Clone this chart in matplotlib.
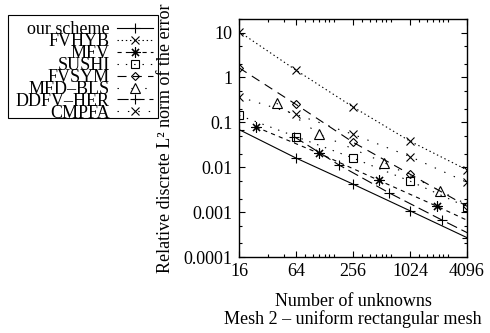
import matplotlib
matplotlib.use("Agg")
import matplotlib.pyplot as plt
from matplotlib.lines import Line2D
from matplotlib.patches import Rectangle
from matplotlib.ticker import FixedLocator, FixedFormatter, LogLocator, NullFormatter

plt.rcParams["font.family"] = ["Liberation Serif", "DejaVu Serif"]
plt.rcParams["lines.scale_dashes"] = False

# number of unknowns for each scheme (the last ones fall outside the axis)
cells = [16, 64, 256, 1024, 4096]
mfv_unknowns = [24, 112, 480, 1984, 8064]
mfd_unknowns = [40, 112, 544, 2112, 8320]
ddfv_unknowns = [61, 181, 613, 2245, 8581]

# relative discrete L2 errors
our_scheme = [0.069, 0.016, 0.0042, 0.00107, 0.00027]
fvhyb = [10.5, 1.45, 0.22, 0.038, 0.0087]
mfv = [0.079, 0.0204, 0.0051, 0.00134, 0.00034]
sushi = [0.143, 0.048, 0.016, 0.0049, 0.0013]
fvsym = [1.64, 0.25, 0.036, 0.0070, 0.00135]
mfd_bls = [0.265, 0.055, 0.0127, 0.0030, 0.0007]
ddfv_her = [0.048, 0.0113, 0.0027, 0.00066, 0.00016]
cmpfa = [0.37, 0.15, 0.054, 0.0173, 0.0046]

x_ticks = [16, 64, 256, 1024, 4096]
x_tick_labels = ["16", "64", "256", "1024", "4096"]
x_minor = [32, 48, 80, 96, 112, 128, 144, 160, 320, 384, 448, 512, 576, 640,
           1280, 1536, 1792, 2048, 2304, 2560]
y_ticks = [10, 1, 0.1, 0.01, 0.001, 0.0001]
y_tick_labels = ["10", "1", "0.1", "0.01", "0.001", "0.0001"]

asterisk = (8, 2, 0)
series = [
    # label, x, y, marker, markersize, linestyle
    ("our scheme", cells, our_scheme, "+", 7.2, "-"),
    ("FVHYB", cells, fvhyb, "x", 6.0, (0, (1.0, 2.0))),
    ("MFV", mfv_unknowns, mfv, asterisk, 7.2, (0, (3.0, 3.0))),
    ("SUSHI", cells, sushi, "s", 5.6, (0, (1.0, 5.0))),
    ("FVSYM", cells, fvsym, "D", 4.0, (0, (6.5, 4.5))),
    ("MFD\u2013BLS", mfd_unknowns, mfd_bls, "^", 7.0, (0, (1.0, 9.0))),
    ("DDFV\u2013HER", ddfv_unknowns, ddfv_her, "+", 7.2, (0, (8.0, 3.5))),
    ("CMPFA", cells, cmpfa, "x", 6.0, (0, (1.0, 6.5))),
]

W, H = 490, 333
fig = plt.figure(figsize=(W / 100, H / 100), dpi=100)
ax = fig.add_axes([239 / W, 1 - 257 / H, (467 - 239) / W, (257 - 19) / H])

for label, xs, ys, marker, ms, ls in series:
    ax.plot(xs, ys, color="black", lw=0.8, linestyle=ls, marker=marker,
            ms=ms, mew=0.8, mfc="none", mec="black")

ax.set_xscale("log", base=2)
ax.set_yscale("log")
ax.set_xlim(16, 4096)
ax.set_ylim(1e-4, 20)

ax.xaxis.set_major_locator(FixedLocator(x_ticks))
ax.xaxis.set_major_formatter(FixedFormatter(x_tick_labels))
ax.xaxis.set_minor_locator(FixedLocator(x_minor))
ax.xaxis.set_minor_formatter(NullFormatter())
ax.yaxis.set_major_locator(FixedLocator(y_ticks))
ax.yaxis.set_major_formatter(FixedFormatter(y_tick_labels))
ax.yaxis.set_minor_locator(LogLocator(base=10, subs=(2.0, 5.0), numticks=20))
ax.yaxis.set_minor_formatter(NullFormatter())

ax.tick_params(which="both", direction="in", top=True, right=True,
               width=0.8, labelsize=13, colors="black")
ax.tick_params(which="major", length=4.5, pad=4.5)
ax.tick_params(which="minor", length=2.2)
for sp in ax.spines.values():
    sp.set_linewidth(1.0)

ax.set_ylabel("Relative discrete L\u00b2 norm of the error", fontsize=13)
ax.yaxis.set_label_coords(-0.285, 0.5)
ax.set_xlabel("Number of unknowns\nMesh 2 \u2013 uniform rectangular mesh",
              fontsize=13, linespacing=1.05)
ax.xaxis.set_label_coords(0.5, -0.225)
ax.xaxis.label.set_va("center")

# key drawn by hand, gnuplot style: label right-aligned, sample on the right
def fx(px):
    return px / W

def fy(py):
    return 1 - py / H

fig.patches.append(Rectangle((fx(8), fy(118)), fx(158) - fx(8), fy(15) - fy(118),
                             transform=fig.transFigure, fill=False,
                             edgecolor="black", lw=0.8))
for i, (label, xs, ys, marker, ms, ls) in enumerate(series):
    yc = 28 + 11.9 * i
    fig.text(fx(110), fy(yc), label, ha="right", va="center_baseline", fontsize=13)
    fig.add_artist(Line2D([fx(117), fx(153)], [fy(yc), fy(yc)],
                          transform=fig.transFigure, color="black", lw=0.8,
                          linestyle=ls))
    fig.add_artist(Line2D([fx(135)], [fy(yc)], transform=fig.transFigure,
                          marker=marker, ms=ms, mew=0.8, mfc="none",
                          mec="black", linestyle="none"))

fig.savefig("out.png", dpi=100)
